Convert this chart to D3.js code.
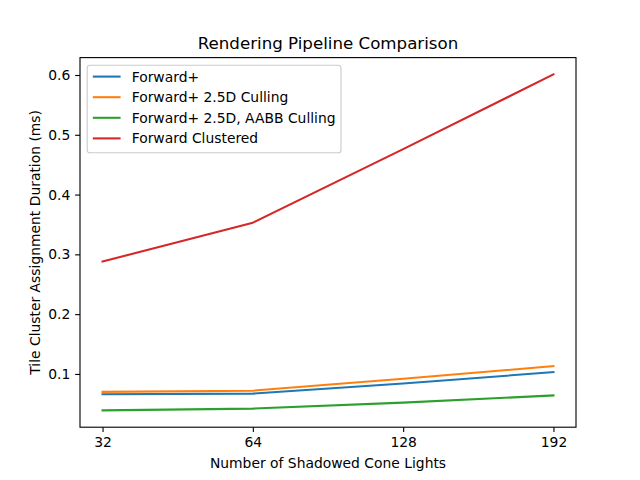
<!DOCTYPE html>
<html><head><meta charset="utf-8">
<script src="https://cdn.jsdelivr.net/npm/d3@7"></script>
<style>body{margin:0;background:#fff}svg{display:block;font-family:"DejaVu Sans",sans-serif}</style>
</head><body><svg id="c" width="640" height="480"></svg>
<script>
const categories = ["32", "64", "128", "192"];
const forwardPlus = [0.066, 0.067, 0.084, 0.103];
const forwardPlus25D = [0.070, 0.072, 0.092, 0.113];
const forwardPlus25DAABB = [0.039, 0.042, 0.052, 0.064];
const forwardClustered = [0.288, 0.353, 0.476, 0.601];
const seriesNames = ["Forward+", "Forward+ 2.5D Culling", "Forward+ 2.5D, AABB Culling", "Forward Clustered"];
const seriesColors = ["#1f77b4", "#ff7f0e", "#2ca02c", "#d62728"];
const yTicks = [0.1, 0.2, 0.3, 0.4, 0.5, 0.6];
const series = [forwardPlus, forwardPlus25D, forwardPlus25DAABB, forwardClustered];

const svg = d3.select("#c");
const L = 80, R = 576, T = 57.6, B = 427.2;
const FS = 13.89;
const n = categories.length;
const x = d3.scaleLinear().domain([-0.05*(n-1), (n-1)*1.05]).range([L, R]);
const all = series.flat();
const mn = d3.min(all), mx = d3.max(all), rg = mx - mn;
const y = d3.scaleLinear().domain([mn - 0.05*rg, mx + 0.05*rg]).range([B, T]);

const line = d3.line().x((d,i)=>x(i)).y(d=>y(d));
series.forEach((s,k)=>{
  svg.append("path").attr("d", line(s)).attr("fill","none")
    .attr("stroke", seriesColors[k]).attr("stroke-width", 2.08).attr("stroke-linecap","square").attr("stroke-linejoin","round");
});

const xAxis = d3.axisBottom(x).tickValues(d3.range(n)).tickFormat(i=>categories[i]).tickSize(4.86).tickPadding(4.86);
const gx = svg.append("g").attr("transform",`translate(0,${B})`).call(xAxis);
const yAxis = d3.axisLeft(y).tickValues(yTicks).tickFormat(d3.format(".1f")).tickSize(4.86).tickPadding(4.86);
const gy = svg.append("g").attr("transform",`translate(${L},0)`).call(yAxis);
[gx,gy].forEach(g=>{
  g.select(".domain").remove();
  g.selectAll("line").attr("stroke","#000").attr("stroke-width",1.11);
  g.selectAll("text").attr("font-size",FS+"px").attr("fill","#000").attr("font-family","DejaVu Sans");
});
svg.append("rect").attr("x",L).attr("y",T).attr("width",R-L).attr("height",B-T)
  .attr("fill","none").attr("stroke","#000").attr("stroke-width",1.11);

svg.append("text").attr("x",(L+R)/2).attr("y",49.3).attr("text-anchor","middle")
  .attr("font-size","16.67px").text("Rendering Pipeline Comparison");
svg.append("text").attr("x",(L+R)/2).attr("y",467.5).attr("text-anchor","middle")
  .attr("font-size",FS+"px").text("Number of Shadowed Cone Lights");
svg.append("text").attr("transform",`translate(39.5,${(T+B)/2}) rotate(-90)`).attr("text-anchor","middle")
  .attr("font-size",FS+"px").text("Tile Cluster Assignment Duration (ms)");

const lg = svg.append("g");
lg.append("rect").attr("x",87.2).attr("y",65.2).attr("width",253.8).attr("height",87.5).attr("rx",2.8)
  .attr("fill","#fff").attr("fill-opacity",0.8).attr("stroke","#ccc").attr("stroke-width",1.11);
seriesNames.forEach((name,k)=>{
  const cy = 76.6 + k*20.6;
  lg.append("line").attr("x1",92.8).attr("x2",120.6).attr("y1",cy).attr("y2",cy)
    .attr("stroke",seriesColors[k]).attr("stroke-width",2.08);
  lg.append("text").attr("x",131.7).attr("y",cy).attr("dy","0.36em").attr("font-size",FS+"px").text(name);
});
</script></body></html>
